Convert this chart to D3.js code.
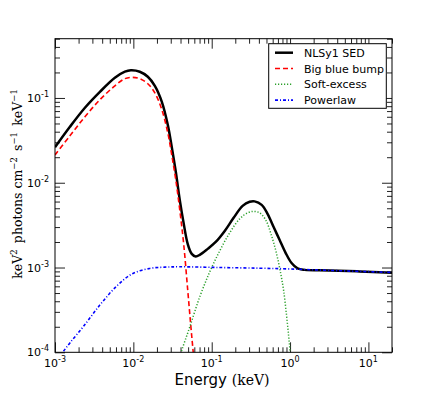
<!DOCTYPE html>
<html>
<head>
<meta charset="utf-8">
<script src="https://cdn.jsdelivr.net/npm/d3@7"></script>
<style>
  html, body { margin: 0; padding: 0; background: #fff; }
  svg { display: block; }
</style>
</head>
<body>
<svg id="chart" width="436" height="393"></svg>
<script>
// ---- Data ----
// Total NLSy1 SED
const totalE = [0.001, 0.00155, 0.00241, 0.00374, 0.00581, 0.0078, 0.00929, 0.0121, 0.0153, 0.0188, 0.0231, 0.0275, 0.0309, 0.0348, 0.0391, 0.044, 0.0494, 0.0556, 0.0625, 0.0703, 0.0889, 0.1125, 0.1466, 0.1905, 0.248, 0.305, 0.353, 0.434, 0.516, 0.617, 0.734, 0.877, 1.045, 1.247, 1.531, 3.18, 7.68, 20];
const totalF = [0.0262, 0.0457, 0.0766, 0.118, 0.173, 0.204, 0.212, 0.204, 0.178, 0.139, 0.0901, 0.0483, 0.0265, 0.01346, 0.00628, 0.00327, 0.0019, 0.00145, 0.00135, 0.00141, 0.00166, 0.002, 0.0027, 0.00386, 0.00533, 0.00596, 0.00603, 0.00548, 0.0043, 0.00301, 0.00212, 0.00149, 0.00113, 0.000976, 0.000938, 0.000925, 0.0009, 0.00087];
// Big blue bump
const bbbE = [0.001, 0.00155, 0.00241, 0.00374, 0.00581, 0.0078, 0.00958, 0.0121, 0.0153, 0.0188, 0.0231, 0.0275, 0.0309, 0.0348, 0.0391, 0.044, 0.0494, 0.054, 0.0581, 0.0625];
const bbbF = [0.0213, 0.0358, 0.06, 0.0953, 0.139, 0.169, 0.175, 0.169, 0.147, 0.115, 0.0726, 0.0388, 0.0213, 0.01081, 0.00479, 0.00185, 0.000544, 0.00021, 0.0001, 0.00005];
// Soft-excess
const softE = [0.037, 0.0408, 0.0525, 0.0703, 0.0944, 0.1265, 0.1694, 0.2275, 0.288, 0.343, 0.408, 0.488, 0.581, 0.673, 0.757, 0.826, 0.901, 0.957, 1.0, 1.02];
const softF = [0.00007, 0.0001, 0.000199, 0.00045, 0.000887, 0.00157, 0.00256, 0.00375, 0.00442, 0.00459, 0.00442, 0.00365, 0.00236, 0.00145, 0.000863, 0.000544, 0.000275, 0.00016, 0.0001, 0.00005];
// Powerlaw
const plE = [0.00115, 0.00126, 0.00155, 0.00228, 0.00374, 0.00616, 0.00986, 0.0162, 0.0252, 0.0391, 0.1265, 0.408, 0.986, 3.18, 20];
const plF = [0.000085, 0.0001, 0.000129, 0.000199, 0.000361, 0.000607, 0.000851, 0.000976, 0.00101, 0.00102, 0.001, 0.000982, 0.000962, 0.000925, 0.000875];

const seriesNames = ["NLSy1 SED", "Big blue bump", "Soft-excess", "Powerlaw"];
const xTickValues = [1e-3, 1e-2, 1e-1, 1, 10];
const xTickExps = ["-3", "-2", "-1", "0", "1"];
const yTickValues = [1e-4, 1e-3, 1e-2, 1e-1];
const yTickExps = ["-4", "-3", "-2", "-1"];

// ---- Layout ----
const svg = d3.select("#chart");
const L = 55, R = 392, T = 38.7, B = 352.3;
const x = d3.scaleLog().domain([1e-3, 20]).range([L, R]);
const y = d3.scaleLog().domain([1e-4, 0.5]).range([B, T]);

svg.append("defs").append("clipPath").attr("id", "clip")
  .append("rect").attr("x", L).attr("y", T).attr("width", R - L).attr("height", B - T);

// minor ticks
const xMinor = [];
for (let d = -3; d <= 1; d++) for (let m = 2; m <= 9; m++) { const v = m * Math.pow(10, d); if (v <= 20) xMinor.push(v); }
const yMinor = [];
for (let d = -4; d <= -1; d++) for (let m = 2; m <= 9; m++) { const v = m * Math.pow(10, d); if (v <= 0.5) yMinor.push(v); }

function styleAxis(g) {
  g.select(".domain").remove();
  g.selectAll(".tick line").attr("stroke", "#222").attr("stroke-width", 1);
  g.selectAll(".tick text").remove();
}
const major = 10, minor = 5;
svg.append("g").attr("transform", `translate(0,${B})`).call(d3.axisBottom(x).tickValues(xTickValues).tickSize(-major)).call(styleAxis);
svg.append("g").attr("transform", `translate(0,${B})`).call(d3.axisBottom(x).tickValues(xMinor).tickSize(-minor)).call(styleAxis);
svg.append("g").attr("transform", `translate(0,${T})`).call(d3.axisTop(x).tickValues(xTickValues).tickSize(-major)).call(styleAxis);
svg.append("g").attr("transform", `translate(0,${T})`).call(d3.axisTop(x).tickValues(xMinor).tickSize(-minor)).call(styleAxis);
svg.append("g").attr("transform", `translate(${L},0)`).call(d3.axisLeft(y).tickValues(yTickValues).tickSize(-major)).call(styleAxis);
svg.append("g").attr("transform", `translate(${L},0)`).call(d3.axisLeft(y).tickValues(yMinor).tickSize(-minor)).call(styleAxis);
svg.append("g").attr("transform", `translate(${R},0)`).call(d3.axisRight(y).tickValues(yTickValues).tickSize(-major)).call(styleAxis);
svg.append("g").attr("transform", `translate(${R},0)`).call(d3.axisRight(y).tickValues(yMinor).tickSize(-minor)).call(styleAxis);

// tick labels
const tickFont = "DejaVu Sans";
xTickValues.forEach((v, i) => {
  const t = svg.append("text").attr("x", x(v)).attr("y", B + 15).attr("text-anchor", "middle")
    .attr("font-family", tickFont).attr("font-size", 11).attr("fill", "#000");
  t.append("tspan").text("10");
  t.append("tspan").attr("dy", -5).attr("font-size", 8).text(xTickExps[i]);
});
yTickValues.forEach((v, i) => {
  const t = svg.append("text").attr("x", L - 6).attr("y", y(v) + 4).attr("text-anchor", "end")
    .attr("font-family", tickFont).attr("font-size", 11).attr("fill", "#000");
  t.append("tspan").text("10");
  t.append("tspan").attr("dy", -5).attr("font-size", 8).text(yTickExps[i]);
});

// curves
const line = d3.line().x(d => x(d[0])).y(d => y(d[1])).curve(d3.curveCatmullRom.alpha(0.5));
const plot = svg.append("g").attr("clip-path", "url(#clip)");
const styles = [
  { stroke: "#000", width: 2.5, dash: null },
  { stroke: "#ff0000", width: 1.6, dash: "5,3" },
  { stroke: "#2ca02c", width: 1.5, dash: "1.2,1.8" },
  { stroke: "#0000ff", width: 1.6, dash: "3,2,1,2" }
];
const data = [
  d3.zip(totalE, totalF),
  d3.zip(bbbE, bbbF),
  d3.zip(softE, softF),
  d3.zip(plE, plF)
];
data.forEach((d, i) => {
  plot.append("path").datum(d).attr("d", line).attr("fill", "none")
    .attr("stroke", styles[i].stroke).attr("stroke-width", styles[i].width)
    .attr("stroke-dasharray", styles[i].dash);
});

// frame
svg.append("rect").attr("x", L).attr("y", T).attr("width", R - L).attr("height", B - T)
  .attr("fill", "none").attr("stroke", "#000").attr("stroke-width", 1);

// legend
const lg = svg.append("g");
lg.append("rect").attr("x", 268.7).attr("y", 43.7).attr("width", 117.6).attr("height", 64.6)
  .attr("fill", "#fff").attr("stroke", "#000").attr("stroke-width", 1);
seriesNames.forEach((n, i) => {
  const cy = 52.7 + i * 15.8;
  lg.append("line").attr("x1", 275).attr("x2", 293).attr("y1", cy).attr("y2", cy)
    .attr("stroke", styles[i].stroke).attr("stroke-width", styles[i].width)
    .attr("stroke-dasharray", styles[i].dash);
  lg.append("text").attr("x", 304).attr("y", cy + 4).attr("font-family", "DejaVu Sans")
    .attr("font-size", 11).attr("fill", "#000").text(n);
});

// axis labels
const xl = svg.append("text").attr("x", 222).attr("y", 385).attr("text-anchor", "middle").attr("fill", "#000");
xl.append("tspan").attr("font-family", "DejaVu Sans").attr("font-size", 15).text("Energy ");
xl.append("tspan").attr("font-family", "DejaVu Serif").attr("font-size", 14).text("(keV)");

const yl = svg.append("text").attr("transform", "translate(22,184) rotate(-90)")
  .attr("text-anchor", "middle").attr("font-family", "DejaVu Serif").attr("font-size", 12.5).attr("fill", "#000");
yl.append("tspan").text("keV");
yl.append("tspan").attr("dy", -5).attr("font-size", 8.5).text("2");
yl.append("tspan").attr("dy", 5).text("\u2002photons cm");
yl.append("tspan").attr("dy", -5).attr("font-size", 8.5).text("\u22122");
yl.append("tspan").attr("dy", 5).text("\u2002s");
yl.append("tspan").attr("dy", -5).attr("font-size", 8.5).text("\u22121");
yl.append("tspan").attr("dy", 5).text("\u2002keV");
yl.append("tspan").attr("dy", -5).attr("font-size", 8.5).text("\u22121");
</script>
</body>
</html>
